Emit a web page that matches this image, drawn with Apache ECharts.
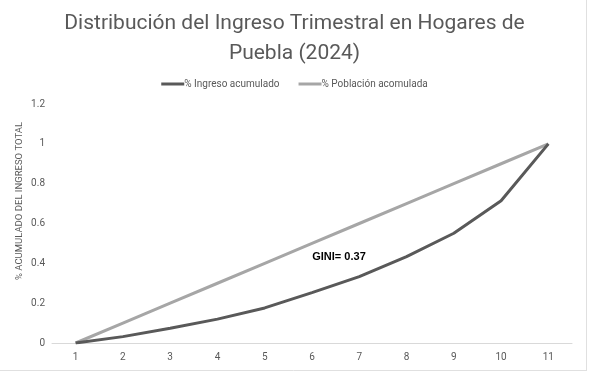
<!DOCTYPE html>
<html><head><meta charset="utf-8">
<script src="https://cdn.jsdelivr.net/npm/echarts@6/dist/echarts.min.js"></script>
<style>html,body{margin:0;padding:0;background:#fff}#c{width:589px;height:372px}</style>
</head><body><div id="c"></div>
<script>
const categories = ['1','2','3','4','5','6','7','8','9','10','11'];
const ingresoAcumulado = [0, 0.032, 0.074, 0.12, 0.176, 0.253, 0.333, 0.434, 0.551, 0.714, 1.0];
const poblacionAcumulada = [0, 0.1, 0.2, 0.3, 0.4, 0.5, 0.6, 0.7, 0.8, 0.9, 1.0];
const yTicks = [0, 0.2, 0.4, 0.6, 0.8, 1, 1.2];
const titleText = 'Distribución del Ingreso Trimestral en Hogares de\nPuebla (2024)';
const yAxisTitle = '% ACUMULADO DEL INGRESO TOTAL';
const giniText = 'GINI= 0.37';

const chart = echarts.init(document.getElementById('c'), null, {renderer:'canvas'});
const font = 'Roboto, "Liberation Sans", sans-serif';
chart.setOption({
  animation: false,
  backgroundColor: '#fff',
  title: {
    text: titleText, left: 'center', top: 4,
    textStyle: {fontFamily: font, fontSize: 21, fontWeight: 'normal', color: '#595959', lineHeight: 30}
  },
  legend: {
    top: 74, left: 'center', itemGap: 19, itemWidth: 23, itemHeight: 3, icon: 'rect',
    textStyle: {fontFamily: font, fontSize: 10, color: '#595959', padding: [0,0,0,-5]},
    data: ['% Ingreso acumulado', '% Población acomulada']
  },
  grid: {left: 52, right: 17, top: 104, bottom: 29, containLabel: false},
  xAxis: {
    type: 'category', data: categories, boundaryGap: true,
    axisLine: {lineStyle: {color: '#d9d9d9', width: 1}},
    axisTick: {show: false},
    axisLabel: {fontFamily: font, fontSize: 10, color: '#595959', margin: 9},
    splitLine: {show: false}
  },
  yAxis: {
    type: 'value', min: yTicks[0], max: yTicks[yTicks.length-1], interval: 0.2,
    axisLine: {show: false}, axisTick: {show: false}, splitLine: {show: false},
    axisLabel: {fontFamily: font, fontSize: 10, color: '#595959', margin: 7,
      formatter: v => String(Math.round(v*10)/10)}
  },
  graphic: [
    {type: 'text', rotation: Math.PI/2, x: 20, y: 201,
      style: {text: yAxisTitle, fontFamily: font, fontSize: 9.5, fill: '#595959', align: 'center', verticalAlign: 'middle'}},
    {type: 'text', x: 339, y: 257,
      style: {text: giniText, fontFamily: '"Liberation Sans", Arial, sans-serif', fontSize: 11, fontWeight: 'bold', fill: '#000', align: 'center', verticalAlign: 'middle'}},
    {type: 'line', shape: {x1: 586.5, y1: 0, x2: 586.5, y2: 371}, style: {stroke: '#e0e0e0', lineWidth: 1}},
    {type: 'line', shape: {x1: 0, y1: 370.5, x2: 587, y2: 370.5}, style: {stroke: '#e0e0e0', lineWidth: 1}}
  ],
  series: [
    {name: '% Ingreso acumulado', type: 'line', data: ingresoAcumulado, showSymbol: false, symbol: 'none',
      lineStyle: {color: '#595959', width: 3}, itemStyle: {color: '#595959'}, z: 3},
    {name: '% Población acomulada', type: 'line', data: poblacionAcumulada, showSymbol: false, symbol: 'none',
      lineStyle: {color: '#a6a6a6', width: 3}, itemStyle: {color: '#a6a6a6'}, z: 2}
  ]
});
</script></body></html>
